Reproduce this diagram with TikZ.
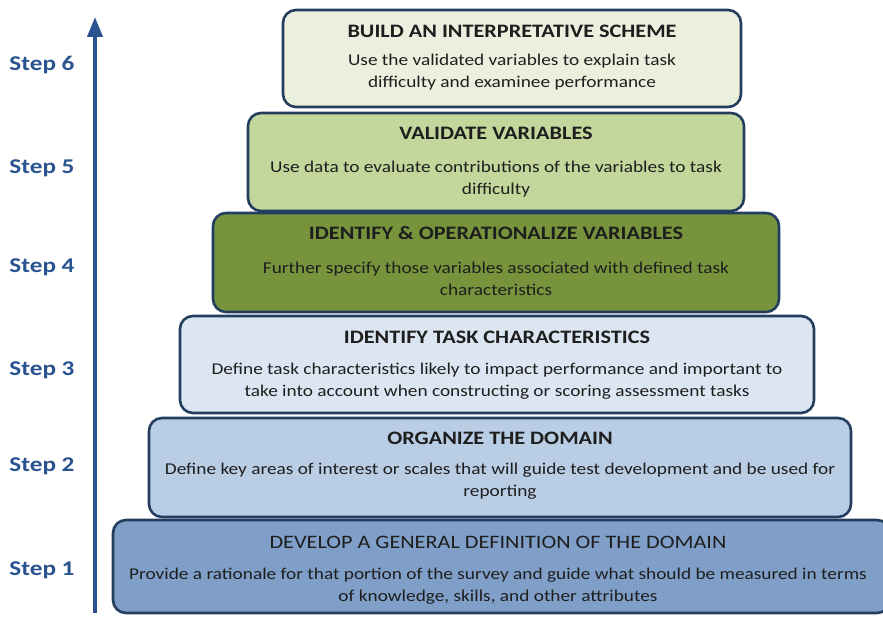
\documentclass[tikz,border=0pt]{standalone}
\usepackage{fontspec}
\setmainfont{Carlito}[FakeStretch=1.17]
\newfontfamily\stepfont{Carlito}[FakeStretch=1.2]
\usetikzlibrary{arrows.meta}
\definecolor{navy}{HTML}{233D5E}
\definecolor{stepblue}{HTML}{2A5490}
\definecolor{cA}{HTML}{EBF0DE}
\definecolor{cB}{HTML}{C3D69B}
\definecolor{cC}{HTML}{77933C}
\definecolor{cD}{HTML}{DCE6F2}
\definecolor{cE}{HTML}{B9CDE5}
\definecolor{cF}{HTML}{7F9FC8}
\definecolor{txt}{HTML}{1E1E1E}
\tikzset{
  stagebox/.style={draw=navy, line width=2.6pt, rounded corners=13pt, inner sep=0pt},
  ttl/.style={font=\fontsize{19}{22}\selectfont\bfseries, text=txt, inner sep=0pt},
  body/.style={font=\fontsize{16.5}{22}\selectfont, text=txt, align=center, inner sep=0pt},
  steplbl/.style={font=\stepfont\fontsize{21}{24}\selectfont\bfseries, text=stepblue, inner sep=0pt}
}
\begin{document}
\begin{tikzpicture}[x=1pt,y=-1pt]
\useasboundingbox (0,0) rectangle (883,618);
\fill[white] (0,0) rectangle (883,618);
% boxes
\draw[stagebox, fill=cF] (113,520) rectangle (890,613);
\draw[stagebox, fill=cE] (149,418) rectangle (851,517);
\draw[stagebox, fill=cD] (180,316) rectangle (814,413);
\draw[stagebox, fill=cC] (213,213) rectangle (779,312);
\draw[stagebox, fill=cB] (248,113) rectangle (744,211);
\draw[stagebox, fill=cA] (283,10) rectangle (741,107);
% texts
\node[ttl] (t6) at (512,31) {BUILD AN INTERPRETATIVE SCHEME};
\node[body] (d6) at (512,72) {Use the validated variables to explain task\\difficulty and examinee performance};
\node[ttl] (t5) at (496,133) {VALIDATE VARIABLES};
\node[body] (d5) at (496,179) {Use data to evaluate contributions of the variables to task\\difficulty};
\node[ttl] (t4) at (496,233) {IDENTIFY \& OPERATIONALIZE VARIABLES};
\node[body] (d4) at (496,279) {Further specify those variables associated with defined task\\characteristics};
\node[ttl] (t3) at (497,337) {IDENTIFY TASK CHARACTERISTICS};
\node[body] (d3) at (497,381) {Define task characteristics likely to impact performance and important to\\take into account when constructing or scoring assessment tasks};
\node[ttl] (t2) at (500,438) {ORGANIZE THE DOMAIN};
\node[body] (d2) at (500,481) {Define key areas of interest or scales that will guide test development and be used for\\reporting};
\node[ttl, font=\fontsize{19}{22}\selectfont] (t1) at (498,542) {DEVELOP A GENERAL DEFINITION OF THE DOMAIN};
\node[body] (d1) at (498,586) {Provide a rationale for that portion of the survey and guide what should be measured in terms\\of knowledge, skills, and other attributes};
% steps
\node[steplbl] (s6) at (42,65) {Step 6};
\node[steplbl] (s5) at (42,168) {Step 5};
\node[steplbl] (s4) at (42,267) {Step 4};
\node[steplbl] (s3) at (42,370) {Step 3};
\node[steplbl] (s2) at (42,466) {Step 2};
\node[steplbl] (s1) at (42,570) {Step 1};
\coordinate (abot) at (95,613);
\coordinate (atop) at (95,17);
\draw[stepblue, line width=4pt, -{Triangle[length=20pt,width=15pt]}] (abot) -- (atop);
\end{tikzpicture}
\end{document}
